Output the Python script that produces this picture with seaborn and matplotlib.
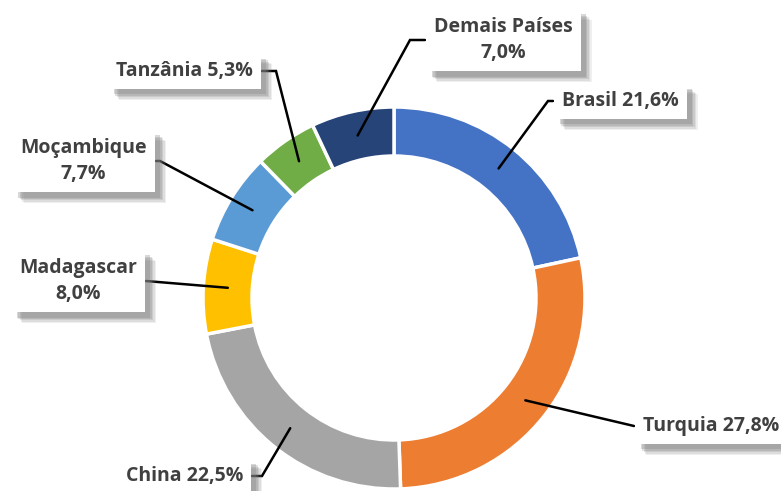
import numpy as np
import matplotlib
matplotlib.use("Agg")
import matplotlib.pyplot as plt
import matplotlib.patheffects as pe
import seaborn as sns

# data
countries = ["Brasil", "Turquia", "China", "Madagascar", "Moçambique", "Tanzânia", "Demais Países"]
shares = [21.6, 27.8, 22.5, 8.0, 7.7, 5.3, 7.0]
labels = ["Brasil 21,6%", "Turquia 27,8%", "China 22,5%", "Madagascar\n8,0%",
          "Moçambique\n7,7%", "Tanzânia 5,3%", "Demais Países\n7,0%"]
colors = ["#4472C4", "#ED7D31", "#A5A5A5", "#FFC000", "#5B9BD5", "#70AD47", "#264478"]

# label layout (pixel coords, y down): box edge, elbow point, alignment
label_pos = [(553, 101), (634, 426), (252, 476), (146, 281), (156, 161), (262, 71), (425, 40)]
elbows = [(548, 101), (634, 426), (262, 476), (146, 281), (160, 161), (276, 71), (410, 40)]
aligns = ["left", "left", "right", "right", "right", "right", "left"]

W, H = 781, 491
cx, cy = 394, 298
r_out, r_in = 191, 142

sns.set_theme(style="white")
plt.rcParams["font.family"] = ["Open Sans", "DejaVu Sans"]

fig = plt.figure(figsize=(W / 100, H / 100), dpi=100)
ax = fig.add_axes([0, 0, 1, 1])

wedges, _ = ax.pie(shares, colors=colors, startangle=90, counterclock=False,
                   center=(cx, H - cy), radius=r_out,
                   wedgeprops=dict(width=r_out - r_in, edgecolor="white", linewidth=2.5))
ax.set_xlim(0, W)
ax.set_ylim(0, H)
ax.set_aspect("equal")
ax.axis("off")

# soft drop shadow built from a few stacked offsets
shadow = [pe.SimplePatchShadow(offset=(o, -o), shadow_rgbFace="#808080", alpha=a)
          for o, a in [(8, 0.12), (7, 0.16), (6, 0.2), (5, 0.25), (4, 0.3)]]

r_mid = (r_out + r_in) / 2
for w, lab, pos, elb, ha in zip(wedges, labels, label_pos, elbows, aligns):
    ang = np.deg2rad((w.theta1 + w.theta2) / 2)
    x0 = cx + r_mid * np.cos(ang)
    y0 = (H - cy) + r_mid * np.sin(ang)
    ax.plot([x0, elb[0], pos[0]], [y0, H - elb[1], H - pos[1]], color="black", lw=1.8,
            solid_joinstyle="miter", zorder=3)
    pad_x = 9 if ha == "left" else -9
    t = ax.text(pos[0] + pad_x, H - pos[1], lab, ha=ha, va="center",
                multialignment="center", fontsize=14, fontweight="bold", color="#404040",
                linespacing=1.45, zorder=4,
                bbox=dict(boxstyle="square,pad=0.4", facecolor="white", edgecolor="none"))
    t.get_bbox_patch().set_path_effects(shadow + [pe.Normal()])

fig.savefig("out.png", dpi=100)
